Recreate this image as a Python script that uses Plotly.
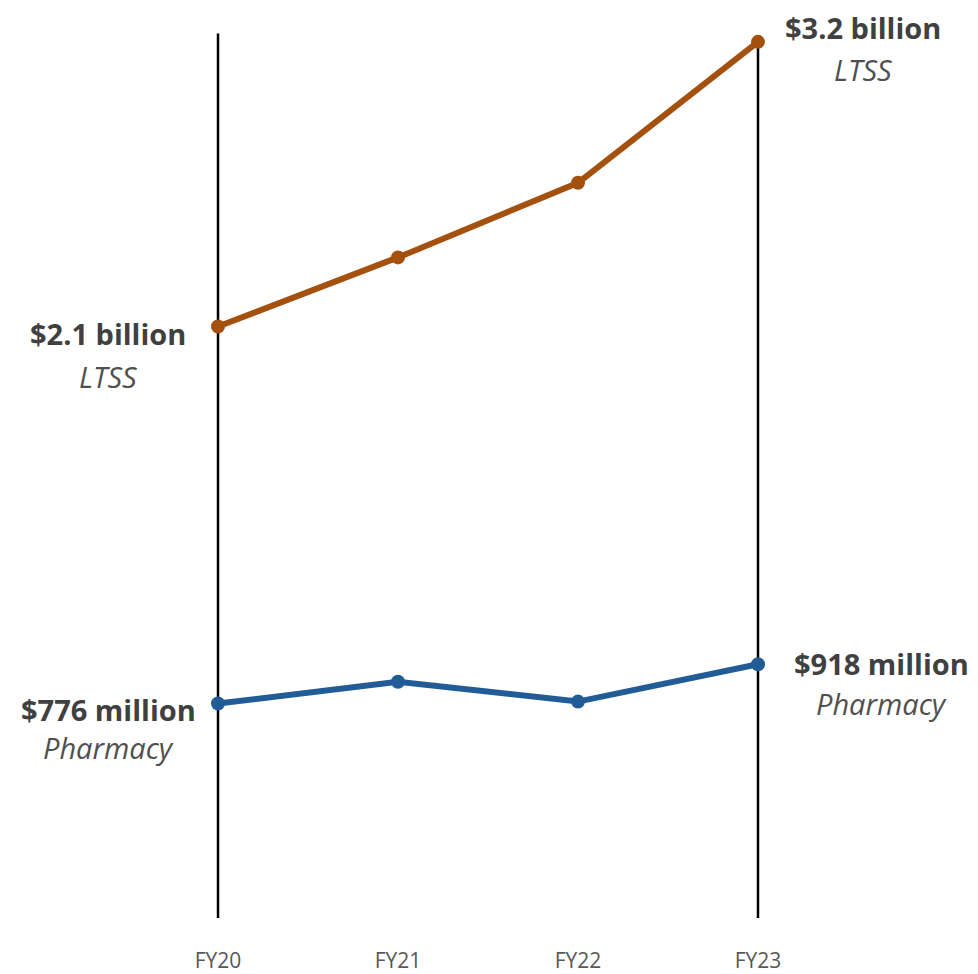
import plotly.graph_objects as go

years = ["FY20", "FY21", "FY22", "FY23"]
ltss = [2.14, 2.39, 2.66, 3.17]          # $ billions
pharmacy = [0.776, 0.855, 0.783, 0.918]  # $ billions

xpos = list(range(len(years)))
LTSS_COLOR = "#A4500E"
PHARM_COLOR = "#225C97"
FONT = "Open Sans, sans-serif"

fig = go.Figure()
fig.add_trace(go.Scatter(x=xpos, y=ltss, mode="lines+markers",
                         line=dict(color=LTSS_COLOR, width=6),
                         marker=dict(color=LTSS_COLOR, size=14),
                         cliponaxis=False, showlegend=False))
fig.add_trace(go.Scatter(x=xpos, y=pharmacy, mode="lines+markers",
                         line=dict(color=PHARM_COLOR, width=6),
                         marker=dict(color=PHARM_COLOR, size=14),
                         cliponaxis=False, showlegend=False))

# vertical reference lines at first and last year
fig.add_shape(type="line", x0=0, x1=0, y0=0, y1=3.2, xref="x", yref="y",
              line=dict(color="black", width=2.5), layer="below")
fig.add_shape(type="line", x0=3, x1=3, y0=0, y1=ltss[3], xref="x", yref="y",
              line=dict(color="black", width=2.5), layer="below")


def money(v):
    if v >= 1:
        return f"${v:.1f} billion"
    return f"${round(v * 1000):d} million"


labels = [
    (0, ltss[0], "LTSS", -110, -7, -50),
    (3, ltss[3], "LTSS", 105, 14, -28),
    (0, pharmacy[0], "Pharmacy", -110, -6, -44),
    (3, pharmacy[3], "Pharmacy", 123, 1, -39),
]
for xi, v, name, xs, ys1, ys2 in labels:
    fig.add_annotation(x=xi, y=v, xref="x", yref="y", text=f"<b>{money(v)}</b>",
                       showarrow=False, xshift=xs, yshift=ys1, borderpad=0,
                       font=dict(family=FONT, size=29, color="#404040"))
    fig.add_annotation(x=xi, y=v, xref="x", yref="y", text=f"<i>{name}</i>",
                       showarrow=False, xshift=xs, yshift=ys2, borderpad=0,
                       font=dict(family=FONT, size=29, color="#505050"))

# page body has an 8px margin, so the figure is laid out 8px smaller
fig.update_layout(
    width=970, height=966,
    margin=dict(l=0, r=0, t=12, b=54),
    paper_bgcolor="white", plot_bgcolor="white",
    xaxis=dict(range=[-1.1667, 4.2222], tickvals=xpos, ticktext=years,
               showgrid=False, zeroline=False, showline=False,
               ticks="outside", ticklen=24, tickcolor="rgba(0,0,0,0)",
               tickfont=dict(family=FONT, size=21, color="#595959")),
    yaxis=dict(range=[0, 3.249], visible=False),
)

fig.write_html("out.html")
